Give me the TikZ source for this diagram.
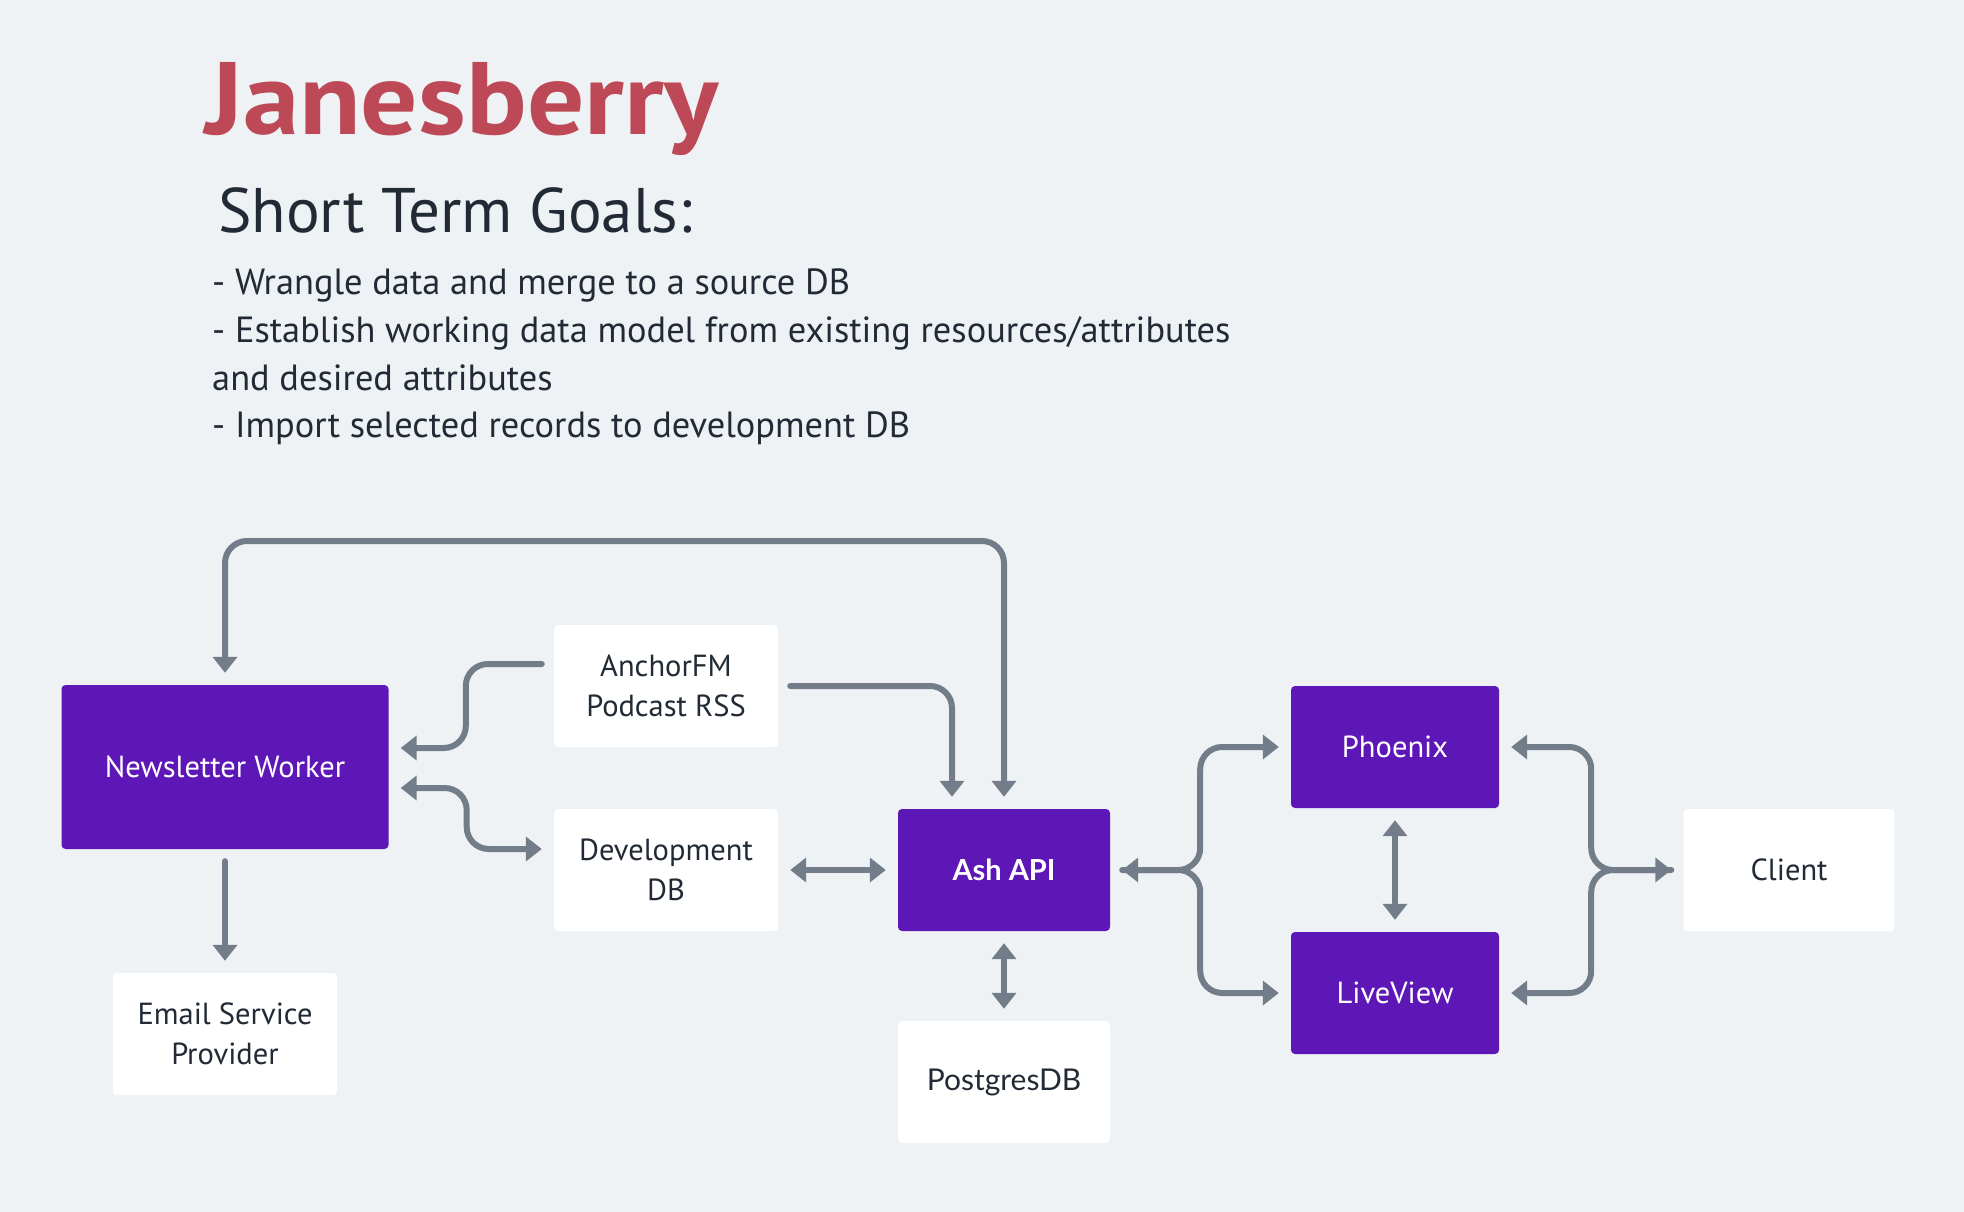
\documentclass[tikz,border=0pt]{standalone}
\usepackage{fontspec}
\setmainfont{PT Sans}
\newfontfamily\altfont{Lato}
\usepackage{tikz}
\usetikzlibrary{arrows.meta,positioning,calc}
\definecolor{cBg}{HTML}{EEF2F5}
\definecolor{cTitle}{HTML}{BD4957}
\definecolor{cPurple}{HTML}{5E17B7}
\definecolor{cLine}{HTML}{737D89}
\definecolor{cText}{HTML}{212A35}

\begin{document}
\begin{tikzpicture}[x=1pt,y=-1pt,
  purplebox/.style={fill=cPurple,text=white,rounded corners=4pt,minimum width=208pt,minimum height=122pt,align=center,font=\fontsize{30.5}{40}\selectfont},
  whitebox/.style={fill=white,text=cText,rounded corners=4pt,minimum width=224pt,minimum height=122pt,align=center,font=\fontsize{30.5}{40}\selectfont},
  conn/.style={draw=cLine,line width=6pt,line cap=round,rounded corners=22pt,shorten <=12pt,shorten >=12pt,>={Triangle[length=16pt,width=24pt]}}]
  \fill[cBg] (0,0) rectangle (1964,1212);
  % heading
  \node[anchor=base west,inner sep=0pt,text=cTitle,font=\fontsize{103}{103}\selectfont\bfseries\addfontfeature{FakeStretch=1.1}] (title) at (205,135) {Janesberry};
  \node[anchor=base west,inner sep=0pt,text=cText,font=\fontsize{63}{63}\selectfont] (goals) at (218,232) {Short Term Goals:};
  \node[anchor=north west,inner sep=0pt,text=cText,align=left,font=\fontsize{36.4}{47.6}\selectfont] (list) at (212,269)
    {- Wrangle data and merge to a source DB\\
     - Establish working data model from existing resources/attributes\\
     and desired attributes\\
     - Import selected records to development DB};
  % boxes
  \node[purplebox,minimum width=327pt,minimum height=164pt] (nw) at (225,767) {Newsletter Worker};
  \node[whitebox] (anchor) at (666,686) {AnchorFM\\Podcast RSS};
  \node[whitebox] (devdb) at (666,870) {Development\\DB};
  \node[whitebox] (esp) at (225,1034) {Email Service\\Provider};
  \node[purplebox,minimum width=212pt,font=\fontsize{29}{40}\selectfont\altfont\bfseries] (ash) at (1004,870) {Ash API};
  \node[whitebox,minimum width=212pt,font=\fontsize{30}{40}\selectfont\altfont] (pg) at (1004,1082) {PostgresDB};
  \node[purplebox] (phx) at (1395,747) {Phoenix};
  \node[purplebox] (lv) at (1395,993) {LiveView};
  \node[whitebox,minimum width=211pt] (client) at (1789,870) {Client};
  % connectors
  \coordinate (looptop) at (0,541);
  \draw[conn,<->] (nw.north) |- (ash.north |- looptop) -- (ash.north);
  \draw[conn,->] ([yshift=22pt]anchor.west) -- ++(-88,0) |- ([yshift=19pt]nw.east);
  \draw[conn,<->] ([yshift=-21pt]nw.east) -- ++(78,0) |- ([yshift=21pt]devdb.west);
  \draw[conn,->] (anchor.east) -| ([xshift=-52pt]ash.north);
  \draw[conn,<->] (devdb.east) -- (ash.west);
  \draw[conn,<->] (ash.south) -- (pg.north);
  \draw[conn,->] (nw.south) -- (esp.north);
  \draw[conn,<->] (ash.east) -- ++(90,0) |- (phx.west);
  \draw[conn,->] (ash.east) -- ++(90,0) |- (lv.west);
  \draw[conn,<->] (phx.south) -- (lv.north);
  \draw[conn,<->] (phx.east) -- ++(92,0) |- (client.west);
  \draw[conn,<-] (lv.east) -- ++(92,0) |- (client.west);
\end{tikzpicture}
\end{document}
